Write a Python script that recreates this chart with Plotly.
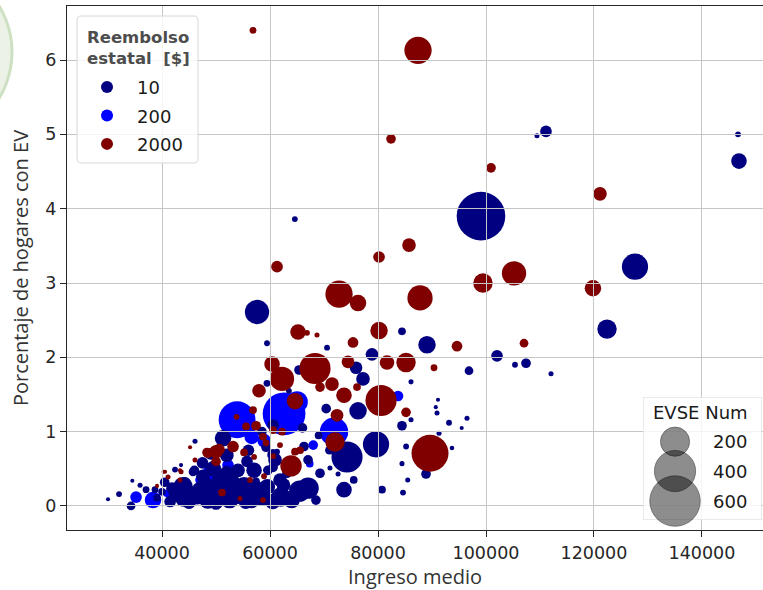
import plotly.graph_objects as go

# ---------------- data ----------------
# Reembolso estatal = 10 $
income_10 = [146670, 146850, 111110, 109440, 99070, 64600, 127590, 122410, 57590, 84440,
             89070, 102040, 107410, 105370, 96850, 112040, 86110, 91110, 90930, 90700,
             96480, 93150, 93700, 86110, 84440, 59440, 70560, 78890, 65370, 75930,
             77220, 70400, 76300, 74260, 79630, 88890, 84440, 84630, 80740, 73700,
             66300, 67040, 69260, 67040, 71100, 72600, 63150, 60560, 57410, 61300,
             30000, 34260, 32040, 34500, 35930, 37040, 38700, 42410, 43520, 41850,
             44260, 45740, 46110, 51300, 51000, 55190, 54070, 55740, 57040, 59260,
             60560, 60930, 61850, 63520, 59600, 53700, 60560, 59440, 47590, 43890,
             39070, 40000, 46000, 44000, 46500, 48500, 50500, 52500, 54500, 56500,
             58500, 60500, 62000, 64000, 65500, 48000, 53000, 57500, 42500, 40500,
             49500, 52000, 56000, 49000, 47500, 58500, 63500, 69000, 66000, 71000,
             75500, 68500, 85500, 85200, 90500, 95500, 91300, 45000, 50000, 55500,
             59500, 62500, 47000, 52000, 41500]
pct_10 = [5.00, 4.64, 5.04, 4.98, 3.90, 3.86, 3.22, 2.38, 2.61, 2.35,
          2.17, 2.02, 1.92, 1.90, 1.82, 1.78, 1.67, 1.43, 1.25, 1.33,
          1.18, 1.12, 0.78, 1.16, 1.08, 2.19, 2.13, 2.04, 1.83, 1.86,
          1.71, 1.31, 1.28, 0.66, 0.83, 0.43, 0.57, 0.18, 0.22, 0.22,
          0.80, 0.62, 0.44, 0.24, 0.51, 0.43, 0.44, 0.52, 0.33, 0.73,
          0.09, 0.00, 0.16, 0.34, 0.28, 0.22, 0.22, 0.49, 0.55, 0.24,
          0.31, 0.46, 0.87, 0.91, 0.35, 0.26, 0.48, 0.60, 0.48, 0.79,
          0.69, 0.62, 0.35, 0.15, 0.48, 0.48, 1.09, 1.65, 0.40, 0.26,
          0.11, 0.19, 0.48, 0.10, 0.15, 0.08, 0.18, 0.10, 0.14, 0.08,
          0.12, 0.06, 0.12, 0.08, 0.20, 0.28, 0.30, 0.22, 0.15, 0.32,
          0.50, 0.68, 0.75, 0.70, 0.58, 1.00, 1.55, 0.95, 1.05, 0.75,
          0.35, 0.08, 0.35, 0.80, 0.85, 1.05, 0.98, 0.05, 0.04, 0.05,
          0.26, 0.28, 0.22, 0.45, 0.06]
evse_10 = [8, 57, 32, 6, 557, 8, 162, 89, 139, 14,
           72, 32, 22, 8, 18, 6, 6, 4, 6, 4,
           6, 8, 5, 6, 22, 8, 8, 38, 22, 38,
           44, 22, 72, 228, 162, 22, 6, 8, 14, 57,
           22, 22, 22, 108, 6, 6, 22, 22, 14, 8,
           4, 18, 8, 4, 6, 11, 11, 8, 4, 32,
           32, 18, 6, 64, 89, 89, 44, 32, 57, 22,
           32, 44, 44, 14, 22, 22, 32, 11, 44, 89,
           14, 14, 22, 64, 89, 72, 108, 89, 72, 64,
           72, 57, 89, 64, 108, 64, 72, 72, 44, 22,
           57, 44, 32, 32, 32, 22, 8, 14, 22, 18,
           14, 22, 6, 8, 4, 4, 6, 44, 44, 44,
           57, 44, 57, 44, 32]

# Reembolso estatal = 200 $
income_200 = [53900, 62600, 65000, 71850, 83700, 35190, 38330, 48890, 52220, 40930,
              47040, 67350, 48000, 68000, 56600, 58900, 51500]
pct_200 = [1.16, 1.24, 1.40, 1.00, 1.48, 0.12, 0.08, 0.44, 0.55, 0.17,
           0.35, 0.57, 0.18, 0.82, 0.93, 0.88, 0.22]
evse_200 = [320, 430, 110, 190, 27, 32, 64, 57, 32, 14,
            22, 14, 32, 22, 50, 44, 44]

# Reembolso estatal = 2000 $
income_2000 = [56850, 87410, 82410, 100930, 121110, 85740, 80190, 61300, 105190, 99440,
               119810, 87780, 72780, 76300, 65190, 66850, 68700, 75370, 80190, 94630,
               107040, 60370, 68330, 62220, 74440, 81670, 85190, 90370, 71480, 69260,
               57960, 73700, 76110, 80560, 64630, 72040, 72410, 89630, 63890, 85190,
               40300, 39070, 43520, 41110, 43330, 45190, 46110, 48330, 50000, 50560,
               53150, 51110, 55190, 57040, 54440, 56300, 58890, 57410, 60560, 62220,
               59260, 64630, 53800, 50000, 48500, 43330, 40560, 58700, 56850, 55560,
               58700, 61850, 60560, 65560]
pct_2000 = [6.40, 6.13, 4.94, 4.55, 4.20, 3.51, 3.35, 3.22, 3.13, 3.00,
            2.93, 2.80, 2.85, 2.73, 2.34, 2.33, 2.30, 2.20, 2.36, 2.15,
            2.19, 1.91, 1.85, 1.71, 1.94, 1.93, 1.93, 1.86, 1.64, 1.60,
            1.55, 1.49, 1.60, 1.42, 1.41, 0.86, 1.22, 0.71, 0.54, 1.26,
            0.46, 0.27, 0.46, 0.39, 0.35, 0.79, 0.62, 0.72, 0.60, 0.76,
            0.80, 0.18, 0.72, 0.66, 0.10, 0.35, 0.40, 1.08, 1.02, 1.00,
            0.85, 0.73, 1.20, 0.73, 0.71, 0.48, 0.46, 0.08, 1.29, 1.07,
            0.93, 0.82, 0.67, 0.75]
evse_2000 = [11, 175, 22, 22, 44, 44, 32, 32, 139, 89,
             64, 150, 175, 64, 57, 8, 6, 27, 72, 27,
             18, 57, 228, 139, 38, 50, 89, 11, 44, 22,
             44, 57, 14, 228, 64, 89, 38, 322, 108, 22,
             4, 4, 6, 6, 6, 4, 6, 22, 22, 32,
             32, 14, 14, 8, 6, 8, 8, 22, 14, 14,
             11, 14, 8, 44, 22, 4, 4, 8, 14, 14,
             14, 8, 8, 14]

size_legend_values = [200, 400, 600]
x_ticks = [40000, 60000, 80000, 100000, 120000, 140000]
y_ticks = [0, 1, 2, 3, 4, 5, 6]

# ---------------- styling ----------------
NAVY, BLUE, MAROON = "#000080", "#0000ff", "#800000"
SIZEREF = 0.471
X_RANGE = [22400, 151300]
Y_RANGE = [-0.323, 6.727]
GRID = "#c6c6c6"
TICKFONT = dict(family="DejaVu Sans", size=17.5, color="#262626")
TITLEFONT = dict(family="Open Sans", size=20, color="#333333")
LEGFONT = dict(family="DejaVu Sans", size=18, color="#1a1a1a")


def bubbles(x, y, s, color, name, rank):
    return go.Scatter(
        x=x, y=y, mode="markers", name=name, legendrank=rank, legendgroup=name,
        marker=dict(size=s, sizemode="area", sizeref=SIZEREF, color=color,
                    line=dict(width=0), opacity=1),
    )


fig = go.Figure()
fig.add_trace(bubbles(income_200, pct_200, evse_200, BLUE, "200", 2))
fig.add_trace(bubbles(income_10, pct_10, evse_10, NAVY, "10", 1))
fig.add_trace(bubbles(income_2000, pct_2000, evse_2000, MAROON, "2000", 3))

# grid drawn on a same-domain subplot placed above the data
fig.add_trace(go.Scatter(x=[None], y=[None], xaxis="x2", yaxis="y2",
                         showlegend=False, hoverinfo="skip"))

# size legend in its own small subplot
fig.add_trace(go.Scatter(
    x=[0.269, 0.269, 0.269], y=[0.637, 0.398, 0.154], xaxis="x3", yaxis="y3",
    mode="markers", showlegend=False, hoverinfo="skip", cliponaxis=False,
    marker=dict(size=size_legend_values, sizemode="area", sizeref=SIZEREF,
                color="rgba(0,0,0,0.63)", line=dict(color="rgba(0,0,0,0.63)", width=1)),
))

annotations = [
    dict(text="EVSE Num", xref="x3", yref="y3", x=0.487, y=0.878,
         showarrow=False, font=LEGFONT),
    # title of the colour legend
    dict(text="<b>Reembolso<br>estatal\u00a0 [$]</b>", xref="paper", yref="paper",
         x=0.0259, y=0.962, xanchor="left", yanchor="top", align="left",
         showarrow=False, font=dict(family="DejaVu Sans", size=16.5, color="#4d4d4d")),
]
for v, yy in zip(size_legend_values, [0.637, 0.398, 0.154]):
    annotations.append(dict(text=str(v), xref="x3", yref="y3", x=0.731, y=yy,
                            showarrow=False, font=LEGFONT))


def rounded_box(x0, x1, y0, y1, rx, ry):
    return (f"M {x0 + rx},{y0} L {x1 - rx},{y0} Q {x1},{y0} {x1},{y0 + ry} "
            f"L {x1},{y1 - ry} Q {x1},{y1} {x1 - rx},{y1} L {x0 + rx},{y1} "
            f"Q {x0},{y1} {x0},{y1 - ry} L {x0},{y0 + ry} Q {x0},{y0} {x0 + rx},{y0} Z")


shapes = [
    # faint green decoration at the top-left border of the picture
    dict(type="circle", xref="paper", yref="paper", x0=-0.333, x1=-0.079,
         y0=0.743, y1=1.081, layer="below",
         fillcolor="rgba(236,243,230,1)", line=dict(color="rgba(205,224,194,1)", width=3)),
    # colour legend frame
    dict(type="path", xref="paper", yref="paper", layer="above",
         path=rounded_box(0.0144, 0.1882, 0.7004, 0.9809, 0.0058, 0.0076),
         fillcolor="rgba(255,255,255,0.8)", line=dict(color="#d6d6d6", width=1)),
    # size legend box
    dict(type="rect", xref="x3", yref="y3", x0=0, x1=1, y0=0, y1=1, layer="below",
         fillcolor="rgba(255,255,255,0.8)", line=dict(color="#d6d6d6", width=1)),
]

fig.update_layout(
    width=763, height=590,
    margin=dict(l=67, r=0, t=6, b=60, autoexpand=False),
    paper_bgcolor="white",
    plot_bgcolor="rgba(0,0,0,0)",
    showlegend=True,
    xaxis=dict(
        domain=[0, 1], range=X_RANGE, tickvals=x_ticks, tickformat="d",
        showgrid=False, zeroline=False, showline=True, linecolor="#262626",
        linewidth=1.3, mirror=True, ticks="outside", ticklen=6, tickwidth=1.2,
        tickcolor="#262626", tickfont=TICKFONT, ticklabelstandoff=1, automargin=False,
        title=dict(text="Ingreso medio", font=TITLEFONT, standoff=3),
    ),
    yaxis=dict(
        domain=[0, 1], range=Y_RANGE, tickvals=y_ticks,
        showgrid=False, zeroline=False, showline=True, linecolor="#262626",
        linewidth=1.3, ticks="outside", ticklen=6, tickwidth=1.2,
        tickcolor="#262626", tickfont=TICKFONT, automargin=False,
        title=dict(text="Porcentaje de hogares con EV", font=TITLEFONT, standoff=11),
    ),
    xaxis2=dict(domain=[0, 1], range=X_RANGE, anchor="y2", tickvals=x_ticks,
                showgrid=True, gridcolor=GRID, gridwidth=1.3, showticklabels=False,
                ticks="", showline=False, zeroline=False, automargin=False),
    yaxis2=dict(domain=[0, 1], range=Y_RANGE, anchor="x2", tickvals=y_ticks,
                showgrid=True, gridcolor=GRID, gridwidth=1.3, showticklabels=False,
                ticks="", showline=False, zeroline=False, automargin=False),
    xaxis3=dict(domain=[0.8276, 0.9986], range=[0, 1], anchor="y3", visible=False),
    yaxis3=dict(domain=[0.0191, 0.2538], range=[0, 1], anchor="x3", visible=False),
    legend=dict(
        x=0.0144, y=0.880, xanchor="left", yanchor="top",
        bgcolor="rgba(0,0,0,0)", borderwidth=0,
        font=LEGFONT, itemsizing="constant", itemwidth=50, tracegroupgap=2,
    ),
    annotations=annotations,
    shapes=shapes,
)

fig.write_html("out.html", config={"displayModeBar": False},
               post_script="document.body.style.margin='0';document.body.style.overflow='hidden';")
